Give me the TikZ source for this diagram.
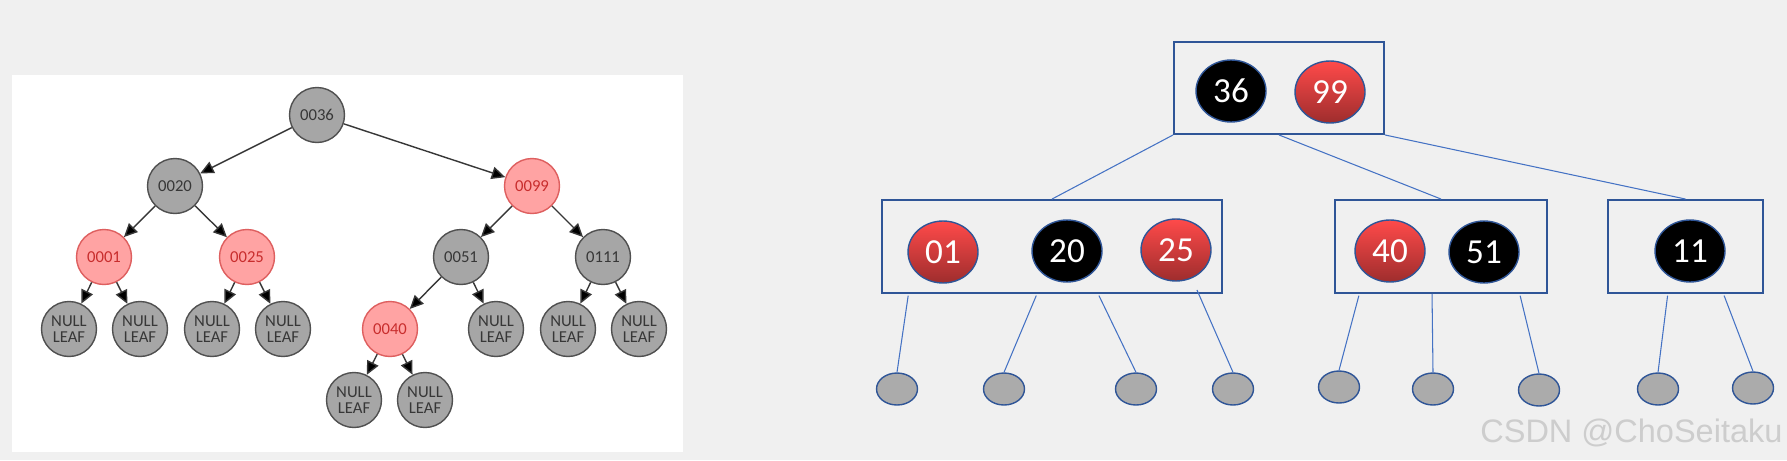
\documentclass[tikz,border=0pt]{standalone}
\usepackage{fontspec}
\setmainfont{Carlito}
\newfontfamily\markfont{Liberation Sans}
\usepackage{tikz}
\usetikzlibrary{positioning,arrows.meta,shapes.geometric,calc}
\definecolor{canvas}{RGB}{240,240,240}
\definecolor{nodegray}{RGB}{166,166,166}
\definecolor{edgegray}{RGB}{80,80,80}
\definecolor{arrowgray}{RGB}{55,55,55}
\definecolor{textgray}{RGB}{55,55,55}
\definecolor{pinkfill}{RGB}{255,163,163}
\definecolor{pinkedge}{RGB}{222,95,95}
\definecolor{pinktext}{RGB}{200,45,45}
\definecolor{boxblue}{RGB}{47,85,151}
\definecolor{lineblue}{RGB}{68,114,196}
\definecolor{redtop}{RGB}{255,74,74}
\definecolor{redbot}{RGB}{158,45,45}
\definecolor{leafgray}{RGB}{171,171,171}
\definecolor{markgray}{RGB}{205,205,205}
\tikzset{
  rbnode/.style={circle, draw=edgegray, line width=0.8pt, fill=nodegray,
                 minimum size=1.1cm, inner sep=0pt, align=center,
                 text=textgray, font=\fontsize{9.5}{9.5}\selectfont},
  rednode/.style={rbnode, draw=pinkedge, fill=pinkfill, text=pinktext},
  tarrow/.style={-{Triangle[length=0.27cm, width=0.25cm, fill=black]}, line width=0.8pt, draw=arrowgray},
  keybox/.style={draw=boxblue, line width=1.1pt, minimum height=1.86cm, inner sep=0pt},
  keyball/.style={ellipse, draw=boxblue, line width=0.8pt, text=white,
                  minimum width=1.4cm, minimum height=1.24cm, inner sep=0pt,
                  font=\fontsize{20}{20}\selectfont},
  blackkey/.style={keyball, fill=black},
  redkey/.style={keyball, top color=redtop, bottom color=redbot},
  nilkey/.style={ellipse, draw=boxblue, line width=0.8pt, fill=leafgray,
                 minimum width=0.82cm, minimum height=0.64cm, inner sep=0pt},
  blink/.style={draw=lineblue, line width=0.6pt},
}

\begin{document}
\begin{tikzpicture}[x=0.02cm, y=-0.02cm]
  \fill[canvas] (0,0) rectangle (1787,460);
  \useasboundingbox (0,0) rectangle (1787,460);
  \fill[white] (12,75) rectangle (683,452);

  % red-black tree
  \node[rbnode]  (n36) at (317,115) {0036};
  \node[rbnode]  (n20) at (175,186) {0020};
  \node[rednode] (n99) at (532,186) {0099};
  \node[rednode] (n01) at (104,257) {0001};
  \node[rednode] (n25) at (247,257) {0025};
  \node[rbnode]  (n51) at (461,257) {0051};
  \node[rbnode]  (n111) at (603,257) {0111};
  \node[rednode] (n40) at (390,329) {0040};

  \node[rbnode] (nl01a) at (69,329)  {NULL\\LEAF};
  \node[rbnode] (nl01b) at (140,329) {NULL\\LEAF};
  \node[rbnode] (nl25a) at (212,329) {NULL\\LEAF};
  \node[rbnode] (nl25b) at (283,329) {NULL\\LEAF};
  \node[rbnode] (nl51)  at (496,329) {NULL\\LEAF};
  \node[rbnode] (nl111a) at (568,329) {NULL\\LEAF};
  \node[rbnode] (nl111b) at (639,329) {NULL\\LEAF};
  \node[rbnode] (nl40a) at (354,400) {NULL\\LEAF};
  \node[rbnode] (nl40b) at (425,400) {NULL\\LEAF};

  \draw[tarrow] (n36) -- (n20);   \draw[tarrow] (n36) -- (n99);
  \draw[tarrow] (n20) -- (n01);   \draw[tarrow] (n20) -- (n25);
  \draw[tarrow] (n99) -- (n51);   \draw[tarrow] (n99) -- (n111);
  \draw[tarrow] (n01) -- (nl01a); \draw[tarrow] (n01) -- (nl01b);
  \draw[tarrow] (n25) -- (nl25a); \draw[tarrow] (n25) -- (nl25b);
  \draw[tarrow] (n51) -- (n40);   \draw[tarrow] (n51) -- (nl51);
  \draw[tarrow] (n111) -- (nl111a); \draw[tarrow] (n111) -- (nl111b);
  \draw[tarrow] (n40) -- (nl40a); \draw[tarrow] (n40) -- (nl40b);

  % 2-3-4 tree
  \node[keybox, minimum width=4.2cm, minimum height=1.84cm] (top) at (1279,88) {};
  \node[keybox, minimum width=6.8cm]  (bl) at (1052,246.5) {};
  \node[keybox, minimum width=4.24cm] (bm) at (1441,246.5) {};
  \node[keybox, minimum width=3.1cm]  (br) at (1685.5,246.5) {};

  \node[blackkey] (k36) at (1231,91)  {36};
  \node[redkey]   (k99) at (1330,92)  {99};
  \node[redkey]   (k01) at (943,252)  {01};
  \node[blackkey] (k20) at (1067,251) {20};
  \node[redkey]   (k25) at (1176,250) {25};
  \node[redkey]   (k40) at (1390,251) {40};
  \node[blackkey] (k51) at (1484,252) {51};
  \node[blackkey] (k11) at (1690,251) {11};

  \node[nilkey] (e1) at (897,389)  {};
  \node[nilkey] (e2) at (1004,389) {};
  \node[nilkey] (e3) at (1136,389) {};
  \node[nilkey] (e4) at (1233,389) {};
  \node[nilkey] (e5) at (1339,387) {};
  \node[nilkey] (e6) at (1433,389) {};
  \node[nilkey] (e7) at (1539,390) {};
  \node[nilkey] (e8) at (1658,389) {};
  \node[nilkey] (e9) at (1753,388) {};

  \draw[blink] (top.south west) -- (bl.north);
  \draw[blink] (top.south) -- (bm.north);
  \draw[blink] (top.south east) -- (br.north);

  \draw[blink, shorten <=1pt] ($(bl.south west)!0.08!(bl.south east)$) -- (e1.north);
  \draw[blink, shorten <=1pt] ($(bl.south west)!0.456!(bl.south east)$) -- (e2.north);
  \draw[blink, shorten <=1pt] ($(bl.south west)!0.635!(bl.south east)$) -- (e3.north);
  \draw[blink] ($(bl.south west)!0.924!(bl.south east)+(0,-4)$) -- (e4.north);
  \draw[blink, shorten <=1pt] ($(bm.south west)!0.118!(bm.south east)$) -- (e5.north);
  \draw[blink] ($(bm.south west)!0.458!(bm.south east)$) -- (e6.north);
  \draw[blink, shorten <=1pt] ($(bm.south west)!0.868!(bm.south east)$) -- (e7.north);
  \draw[blink, shorten <=1pt] ($(br.south west)!0.387!(br.south east)$) -- (e8.north);
  \draw[blink, shorten <=1pt] ($(br.south west)!0.742!(br.south east)$) -- (e9.north);

  \node[anchor=base west, inner sep=0pt, text=markgray,
        font=\markfont\fontsize{18.5}{18.5}\selectfont] (mark) at (1480,442) {CSDN @ChoSeitaku};
\end{tikzpicture}
\end{document}
